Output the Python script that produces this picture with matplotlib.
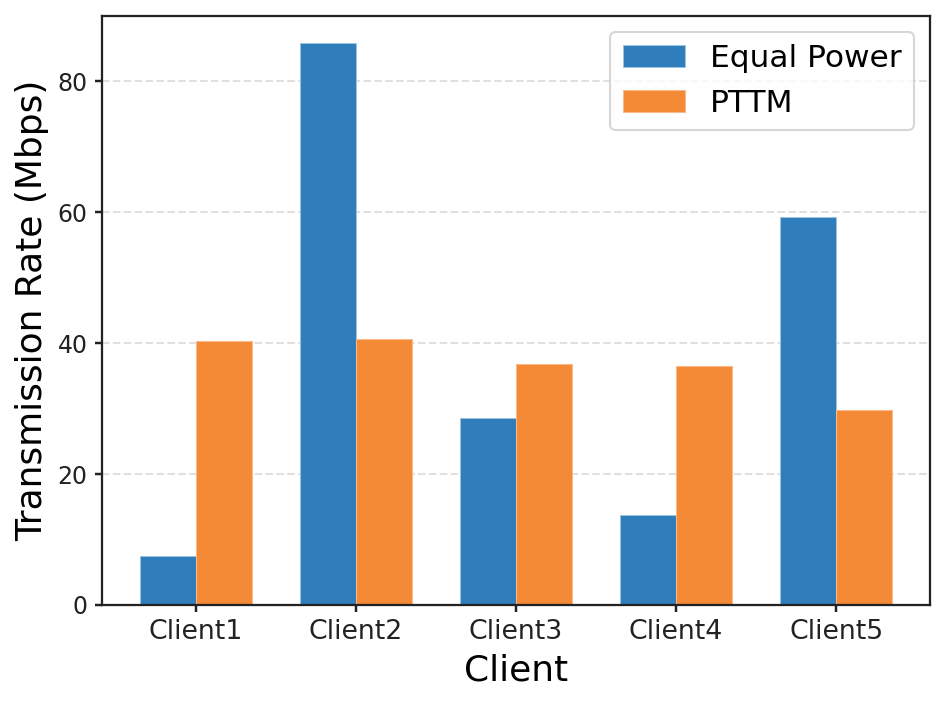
import matplotlib
matplotlib.use("Agg")
import matplotlib.pyplot as plt
import numpy as np

clients = ["Client1", "Client2", "Client3", "Client4", "Client5"]
equal_power = [7.5, 85.8, 28.6, 13.7, 59.3]
pttm = [40.4, 40.6, 36.9, 36.5, 29.8]

fig = plt.figure(figsize=(946/148, 707/148), dpi=148)
ax = fig.add_axes([102/946, 1-605/707, (930-102)/946, (605-16)/707])

x = np.arange(len(clients))
w = 0.35
ax.bar(x - w/2, equal_power, w, label="Equal Power", color="#2f7dba", edgecolor="#9cc3e0", linewidth=0.5)
ax.bar(x + w/2, pttm, w, label="PTTM", color="#f58a36", edgecolor="#f9b98a", linewidth=0.5)

ax.set_xticks(x)
ax.set_xticklabels(clients, fontsize=13, color="#222222")
ax.tick_params(axis="y", labelsize=11.5, labelcolor="#222222")
ax.tick_params(axis="both", width=1.2, color="#222222")
ax.set_xlabel("Client", fontsize=17.5)
ax.set_ylabel("Transmission Rate (Mbps)", fontsize=17.5)
ax.set_ylim(0, 90)
ax.set_yticks([0, 20, 40, 60, 80])
ax.yaxis.grid(True, linestyle="--", color="#cccccc", alpha=0.6, linewidth=1)
ax.set_axisbelow(True)
ax.legend(fontsize=15.2, loc="upper right", framealpha=0.8)
for s in ax.spines.values():
    s.set_color("#222222")
    s.set_linewidth(1.1)

fig.savefig("out.png", dpi=148)
